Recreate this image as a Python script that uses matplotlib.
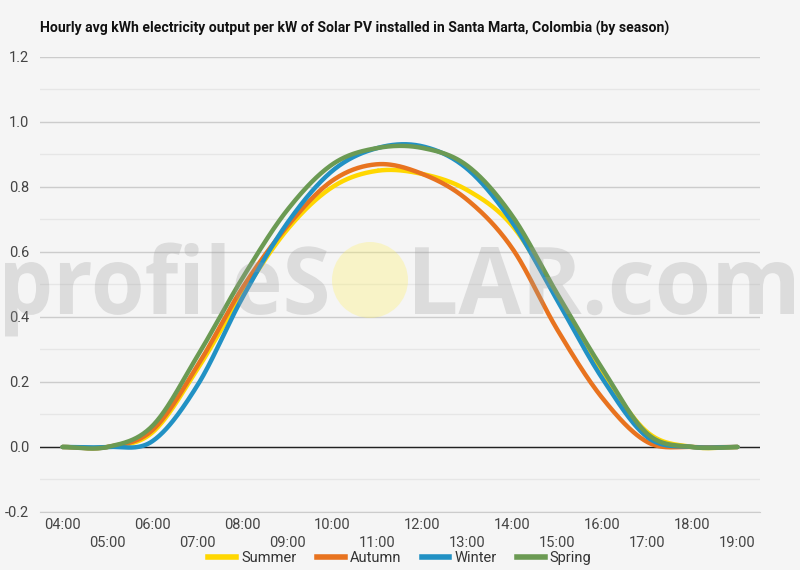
import numpy as np
import matplotlib
matplotlib.use("Agg")
import matplotlib.pyplot as plt
from matplotlib.patches import Ellipse, PathPatch
from matplotlib.lines import Line2D
from matplotlib.textpath import TextPath
from matplotlib.font_manager import FontProperties
from matplotlib.transforms import Affine2D

hours = ["04:00", "05:00", "06:00", "07:00", "08:00", "09:00", "10:00", "11:00",
         "12:00", "13:00", "14:00", "15:00", "16:00", "17:00", "18:00", "19:00"]
summer = [0.0, 0.0, 0.045, 0.24, 0.47, 0.67, 0.80, 0.85, 0.84, 0.79, 0.68, 0.46, 0.23, 0.045, 0.0, 0.0]
autumn = [0.0, 0.0, 0.052, 0.25, 0.49, 0.68, 0.82, 0.87, 0.84, 0.76, 0.61, 0.36, 0.15, 0.015, 0.0, 0.0]
winter = [0.0, 0.0, 0.018, 0.19, 0.46, 0.69, 0.85, 0.92, 0.925, 0.855, 0.69, 0.45, 0.21, 0.03, 0.0, 0.0]
spring = [0.0, 0.0, 0.065, 0.28, 0.52, 0.73, 0.87, 0.92, 0.92, 0.865, 0.71, 0.47, 0.24, 0.04, 0.0, 0.0]
series_names = ["Summer", "Autumn", "Winter", "Spring"]
colors = ["#FFD700", "#E8731F", "#2191C4", "#6B9A53"]

plt.rcParams['font.family'] = ['Roboto', 'DejaVu Sans']


def smooth(vals, n=40):
    y = np.asarray(vals, float)
    p = np.concatenate([[y[0]], y, [y[-1]]])
    xs, ys = [], []
    t = np.linspace(0, 1, n)
    for i in range(len(y) - 1):
        p0, p1, p2, p3 = p[i], p[i + 1], p[i + 2], p[i + 3]
        seg = 0.5 * ((2 * p1) + (-p0 + p2) * t + (2 * p0 - 5 * p1 + 4 * p2 - p3) * t ** 2
                     + (-p0 + 3 * p1 - 3 * p2 + p3) * t ** 3)
        xs.append(i + t)
        ys.append(seg)
    return np.concatenate(xs), np.concatenate(ys)


W, H = 800, 570
bg = "#f5f5f5"
fig = plt.figure(figsize=(8, 5.7), dpi=100, facecolor=bg)
ax = fig.add_axes([0.05, 0.1018, 0.9, 0.7982], facecolor=bg)

x_idx = np.arange(len(hours))
for vals, c in zip([summer, autumn, winter, spring], colors):
    xs, ys = smooth(vals)
    ax.plot(xs, ys, color=c, lw=3.2, solid_capstyle="round", zorder=3)

ax.set_ylim(-0.2, 1.2)
ax.set_xlim(-0.5, len(hours) - 0.5)
yt = np.arange(-0.2, 1.21, 0.2)
ax.set_yticks(yt)
ax.set_yticklabels([f"{v:.1f}" for v in yt])
ax.set_yticks(np.arange(-0.1, 1.2, 0.2), minor=True)
ax.grid(axis="y", which="major", color="#cccccc", lw=1, zorder=1)
ax.grid(axis="y", which="minor", color="#e6e6e6", lw=1, zorder=1)
ax.axhline(0, color="#222222", lw=1, zorder=2)

ax.set_xticks(x_idx[::2])
ax.set_xticklabels(hours[::2])
ax.set_xticks(x_idx[1::2], minor=True)
ax.set_xticklabels(hours[1::2], minor=True)
ax.tick_params(axis="x", which="major", length=0, pad=4, labelsize=10.5, labelcolor="#444444")
ax.tick_params(axis="x", which="minor", length=0, pad=17, labelsize=10.5, labelcolor="#444444")
ax.tick_params(axis="y", which="both", length=0, pad=8, labelsize=10.5, labelcolor="#444444")

for s in ["top", "right", "left"]:
    ax.spines[s].set_visible(False)
ax.spines["bottom"].set_color("#cccccc")

# watermark (semi-transparent overlay)
wm_prop = FontProperties(family="Open Sans", weight="bold")


def place_text(txt, x0, x1, baseline, vscale):
    tp = TextPath((0, 0), txt, size=100, prop=wm_prop)
    ext = tp.get_extents()
    sx = (x1 - x0) / (ext.x1 - ext.x0)
    tr = (Affine2D().translate(-ext.x0, 0).scale(sx / W, vscale / H)
          .translate(x0 / W, (H - baseline) / H) + fig.transFigure)
    fig.patches.append(PathPatch(tp, transform=tr, facecolor="#9c9c9c", edgecolor="none",
                                 alpha=0.28, zorder=10))


ref = TextPath((0, 0), "l", size=100, prop=wm_prop).get_extents()
vs = 71.0 / ref.y1
place_text("profileS", 5, 327, 314, vs)
place_text("LAR.com", 415, 794, 314, vs)
fig.patches.append(Ellipse((370 / W, 1 - 280 / H), 76 / W, 76 / H,
                           transform=fig.transFigure, facecolor="#fff15f", edgecolor="none",
                           alpha=0.3, zorder=10))

title_font = "Liberation Sans Narrow"
fig.text(40 / W, 1 - 28 / H,
         "Hourly avg kWh electricity output per kW of Solar PV installed in Santa Marta, Colombia (by season)",
         fontsize=10.1, fontweight="bold", color="#111111", ha="left", va="center",
         family=[title_font, "Roboto", "DejaVu Sans"])

handles = [Line2D([0], [0], color=c, lw=4) for c in colors]
fig.legend(handles, series_names, loc="center", bbox_to_anchor=(0.5, 1 - 558 / H),
           ncol=4, frameon=False, fontsize=10.5, handlelength=1.9, columnspacing=1.4,
           handletextpad=0.35, labelcolor="#333333")

fig.savefig("out.png", dpi=100, facecolor=bg)
